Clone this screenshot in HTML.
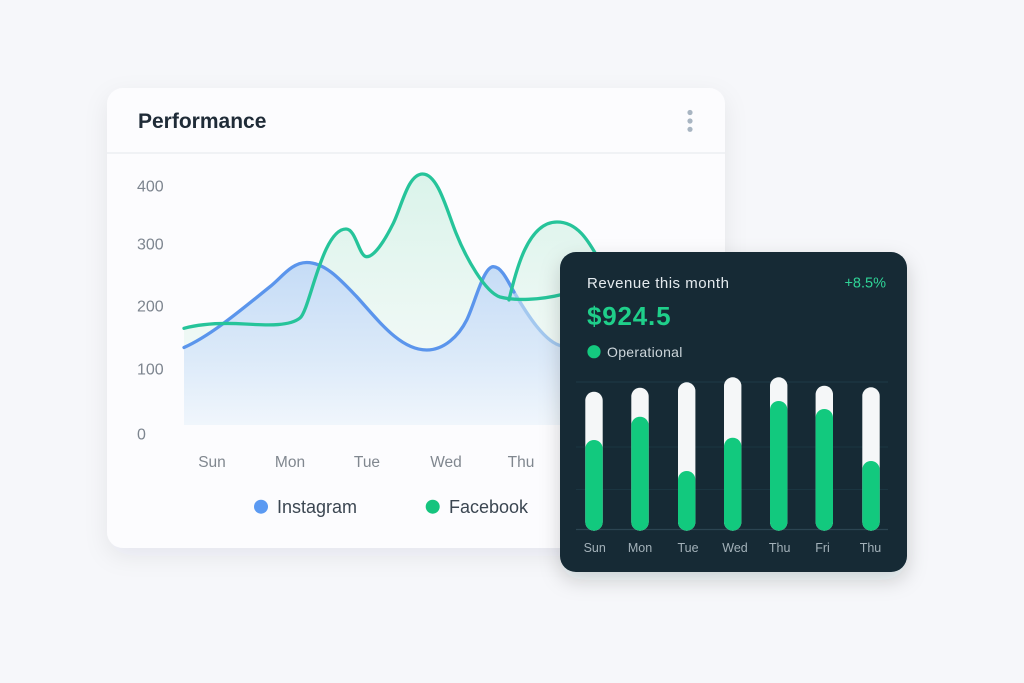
<!DOCTYPE html>
<html><head><meta charset="utf-8"><style>
html,body{margin:0;padding:0;background:#f6f7fa;}
svg{display:block;font-family:"Liberation Sans",Arial,sans-serif;}
</style></head><body>
<svg width="1024" height="683" viewBox="0 0 1024 683" xmlns="http://www.w3.org/2000/svg">
<defs>
<filter id="sh" x="-10%" y="-10%" width="120%" height="130%">
<feDropShadow dx="0" dy="8" stdDeviation="12" flood-color="#1e2a40" flood-opacity="0.07"/>
</filter>
<filter id="sh2" x="-10%" y="-10%" width="120%" height="130%">
<feDropShadow dx="0" dy="8" stdDeviation="10" flood-color="#0e1c26" flood-opacity="0.18"/>
</filter>
<linearGradient id="gB" x1="0" y1="260" x2="0" y2="425" gradientUnits="userSpaceOnUse">
<stop offset="0" stop-color="#c4dbf6"/>
<stop offset="0.6" stop-color="#dceaf9"/>
<stop offset="1" stop-color="#f0f6fc"/>
</linearGradient>
<linearGradient id="gG" x1="0" y1="172" x2="0" y2="425" gradientUnits="userSpaceOnUse">
<stop offset="0" stop-color="#daf3ea"/>
<stop offset="0.6" stop-color="#edf8f4"/>
<stop offset="1" stop-color="#f6fbfa"/>
</linearGradient>
</defs>
<rect width="1024" height="683" fill="#f6f7fa"/>

<!-- main card -->
<rect x="107" y="88" width="618" height="460" rx="16" fill="#fcfcfe" filter="url(#sh)"/>
<line x1="107" y1="153" x2="725" y2="153" stroke="#eceef2" stroke-width="1.5"/>
<text x="138" y="128" font-size="21" font-weight="bold" fill="#1f2b37">Performance</text>
<circle cx="690" cy="112.5" r="2.6" fill="#a8b5c2"/>
<circle cx="690" cy="121" r="2.6" fill="#a8b5c2"/>
<circle cx="690" cy="129.3" r="2.6" fill="#a8b5c2"/>

<g font-size="16" fill="#7d858f">
<text x="137" y="191.5">400</text>
<text x="137" y="249.5">300</text>
<text x="137" y="311.5">200</text>
<text x="137" y="374.5">100</text>
<text x="137" y="439.5">0</text>
</g>

<!-- fills -->
<path fill="url(#gG)" d="M184,328.3 C200,324 220,322.5 245,324 C270,325.5 290,326 300,318 C310,310 322,229 346,229 C356,229 359,256.7 366.7,256.7 C374,256.7 384,242 393.3,223.3 C402,205.4 408,174 422.7,174 C438,174 447,211 456,233 C466,258 485,292 500,297 C515,301 540,300 560,295 L560,425 L184,425 Z"/>
<path fill="url(#gG)" d="M509,300 C516,270 528,222 557,222 C577,222 588,240 598,258 L598,425 L509,425 Z"/>
<path fill="url(#gB)" d="M184,347.5 C212,334.9 242,309.1 270,286.7 C282,277.1 291.7,262.5 306.7,262.5 C324.7,262.5 339.7,278.85 356.7,296.7 C378,320 400,350 426.7,350 C444,350 458.7,336 466.7,320 C474.7,304 483.3,266.7 493.3,266.7 C502,266.7 508.7,283.1 516.7,296.7 C526.7,313.7 545,343 562,346 L562,425 L184,425 Z"/>

<!-- lines -->
<path fill="none" stroke="#a3c8ef" stroke-width="3.3" stroke-linecap="round" d="M514,292 C526.7,313.7 545,343 562,346"/>
<path fill="none" stroke="#5b95ec" stroke-width="3.3" stroke-linecap="round" d="M184,347.5 C212,334.9 242,309.1 270,286.7 C282,277.1 291.7,262.5 306.7,262.5 C324.7,262.5 339.7,278.85 356.7,296.7 C378,320 400,350 426.7,350 C444,350 458.7,336 466.7,320 C474.7,304 483.3,266.7 493.3,266.7 C502,266.7 508.7,283.1 514,292"/>
<path fill="none" stroke="#26c49a" stroke-width="3.3" stroke-linecap="round" d="M184,328.3 C200,324 220,322.5 245,324 C270,325.5 290,326 300,318 C310,310 322,229 346,229 C356,229 359,256.7 366.7,256.7 C374,256.7 384,242 393.3,223.3 C402,205.4 408,174 422.7,174 C438,174 447,211 456,233 C466,258 485,292 500,297 C515,301 540,300 562,294.5"/>
<path fill="none" stroke="#26c49a" stroke-width="3.3" stroke-linecap="round" d="M509,300 C516,270 528,222 557,222 C577,222 588,240 598,258"/>

<g font-size="15.5" fill="#80878f" text-anchor="middle">
<text x="212" y="467">Sun</text>
<text x="290" y="467">Mon</text>
<text x="367" y="467">Tue</text>
<text x="446" y="467">Wed</text>
<text x="521" y="467">Thu</text>
</g>

<circle cx="261" cy="506.7" r="7" fill="#5b9af2"/>
<text x="277" y="513" font-size="18" fill="#3b4651">Instagram</text>
<circle cx="432.7" cy="506.7" r="7" fill="#15c47e"/>
<text x="449" y="513" font-size="18" fill="#3b4651">Facebook</text>

<!-- dark card -->
<rect x="560" y="252" width="347" height="320" rx="16" fill="#132a35" filter="url(#sh2)"/>
<text x="587" y="288" font-size="15" letter-spacing="0.5" fill="#e4eaee">Revenue this month</text>
<text x="886" y="287.5" font-size="14.5" fill="#2fd497" text-anchor="end">+8.5%</text>
<text x="587" y="325" font-size="26" font-weight="bold" letter-spacing="0.8" fill="#1fcf8a">$924.5</text>
<circle cx="594" cy="351.7" r="6.6" fill="#14c97f"/>
<text x="607" y="356.8" font-size="14" letter-spacing="0.3" fill="#cdd6db">Operational</text>

<g stroke-width="1">
<line x1="576" y1="382" x2="888" y2="382" stroke="#1f3a47"/>
<line x1="576" y1="447" x2="888" y2="447" stroke="#1b3541"/>
<line x1="576" y1="489.5" x2="888" y2="489.5" stroke="#1b3541"/>
<line x1="576" y1="529.5" x2="888" y2="529.5" stroke="#2c4552" stroke-width="1.3"/>
</g>

<g>
<rect x="585.3" y="391.7" width="17.4" height="139" rx="8.7" fill="#f5f7f8"/>
<rect x="585.3" y="440" width="17.4" height="90.7" rx="8.7" fill="#12c97e"/>
<rect x="631.3" y="387.7" width="17.4" height="143" rx="8.7" fill="#f5f7f8"/>
<rect x="631.3" y="416.7" width="17.4" height="114" rx="8.7" fill="#12c97e"/>
<rect x="678" y="382.3" width="17.4" height="148.4" rx="8.7" fill="#f5f7f8"/>
<rect x="678" y="471" width="17.4" height="59.7" rx="8.7" fill="#12c97e"/>
<rect x="724" y="377.3" width="17.4" height="153.4" rx="8.7" fill="#f5f7f8"/>
<rect x="724" y="437.7" width="17.4" height="93" rx="8.7" fill="#12c97e"/>
<rect x="770" y="377.3" width="17.4" height="153.4" rx="8.7" fill="#f5f7f8"/>
<rect x="770" y="401" width="17.4" height="129.7" rx="8.7" fill="#12c97e"/>
<rect x="815.6" y="385.7" width="17.4" height="145" rx="8.7" fill="#f5f7f8"/>
<rect x="815.6" y="409" width="17.4" height="121.7" rx="8.7" fill="#12c97e"/>
<rect x="862.3" y="387.3" width="17.4" height="143.4" rx="8.7" fill="#f5f7f8"/>
<rect x="862.3" y="461" width="17.4" height="69.7" rx="8.7" fill="#12c97e"/>
</g>

<g font-size="12.5" fill="#a3b1b9" text-anchor="middle">
<text x="594.7" y="552">Sun</text>
<text x="640" y="552">Mon</text>
<text x="688" y="552">Tue</text>
<text x="735" y="552">Wed</text>
<text x="779.7" y="552">Thu</text>
<text x="822.5" y="552">Fri</text>
<text x="870.5" y="552">Thu</text>
</g>
</svg>
</body></html>
